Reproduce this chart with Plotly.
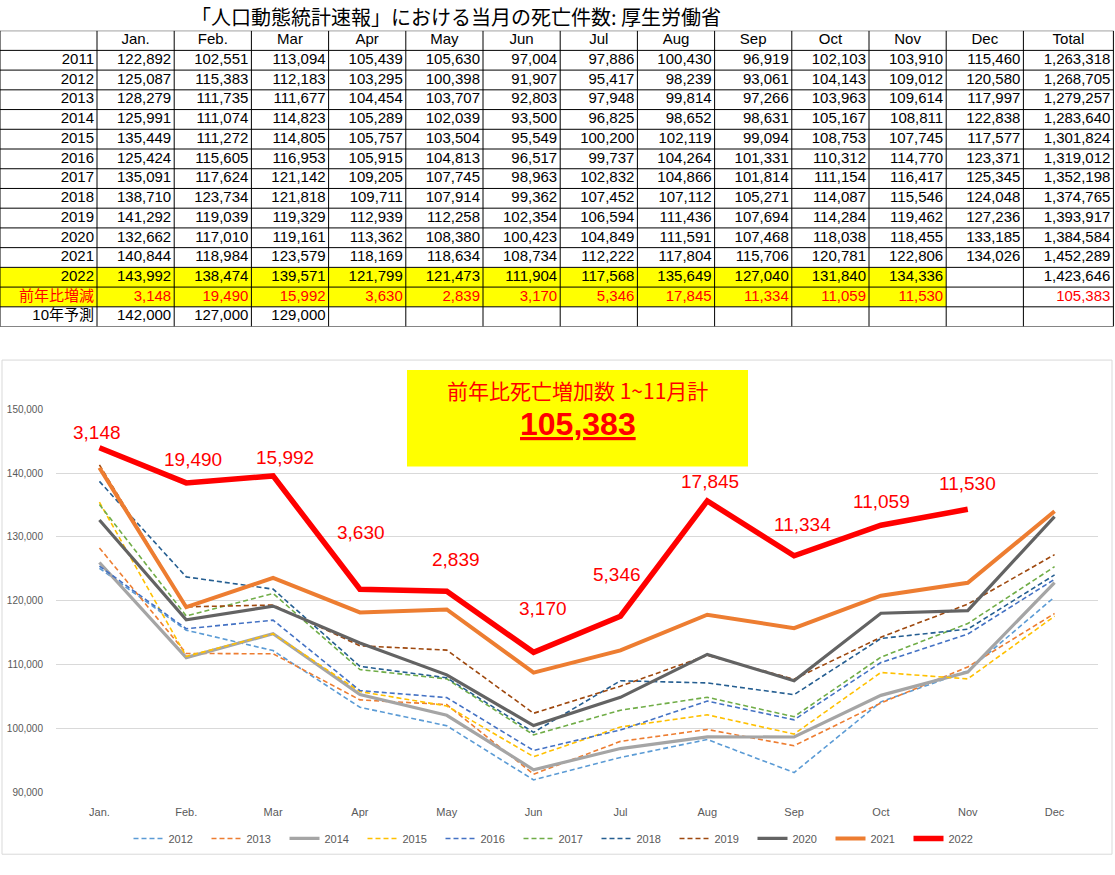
import plotly.graph_objects as go

# ---------------- data ----------------
months = ["Jan.", "Feb.", "Mar", "Apr", "May", "Jun", "Jul", "Aug", "Sep", "Oct", "Nov", "Dec"]
years = [2011, 2012, 2013, 2014, 2015, 2016, 2017, 2018, 2019, 2020, 2021, 2022]

deaths_2011 = [122892, 102551, 113094, 105439, 105630, 97004, 97886, 100430, 96919, 102103, 103910, 115460]
deaths_2012 = [125087, 115383, 112183, 103295, 100398, 91907, 95417, 98239, 93061, 104143, 109012, 120580]
deaths_2013 = [128279, 111735, 111677, 104454, 103707, 92803, 97948, 99814, 97266, 103963, 109614, 117997]
deaths_2014 = [125991, 111074, 114823, 105289, 102039, 93500, 96825, 98652, 98631, 105167, 108811, 122838]
deaths_2015 = [135449, 111272, 114805, 105757, 103504, 95549, 100200, 102119, 99094, 108753, 107745, 117577]
deaths_2016 = [125424, 115605, 116953, 105915, 104813, 96517, 99737, 104264, 101331, 110312, 114770, 123371]
deaths_2017 = [135091, 117624, 121142, 109205, 107745, 98963, 102832, 104866, 101814, 111154, 116417, 125345]
deaths_2018 = [138710, 123734, 121818, 109711, 107914, 99362, 107452, 107112, 105271, 114087, 115546, 124048]
deaths_2019 = [141292, 119039, 119329, 112939, 112258, 102354, 106594, 111436, 107694, 114284, 119462, 127236]
deaths_2020 = [132662, 117010, 119161, 113362, 108380, 100423, 104849, 111591, 107468, 118038, 118455, 133185]
deaths_2021 = [140844, 118984, 123579, 118169, 118634, 108734, 112222, 117804, 115706, 120781, 122806, 134026]
deaths_2022 = [143992, 138474, 139571, 121799, 121473, 111904, 117568, 135649, 127040, 131840, 134336]

year_totals = [1263318, 1268705, 1279257, 1283640, 1301824, 1319012, 1352198, 1374765,
               1393917, 1384584, 1452289, 1423646]
diff_2022 = [3148, 19490, 15992, 3630, 2839, 3170, 5346, 17845, 11334, 11059, 11530]
diff_total = 105383
forecast_10y = [142000, 127000, 129000]

label_diff = "前年比増減"
label_forecast = "10年予測"
title_text = "「人口動態統計速報」における当月の死亡件数: 厚生労働省"
box_title = "前年比死亡増加数 1~11月計"

series = {
    2011: deaths_2011, 2012: deaths_2012, 2013: deaths_2013, 2014: deaths_2014,
    2015: deaths_2015, 2016: deaths_2016, 2017: deaths_2017, 2018: deaths_2018,
    2019: deaths_2019, 2020: deaths_2020, 2021: deaths_2021, 2022: deaths_2022,
}

# ---------------- styles ----------------
W, H = 1115, 875
RED = "#FF0000"
FONT_LAT = "Liberation Sans, Arial, Noto Sans CJK JP"
FONT_CJK = "Noto Sans CJK JP, Liberation Sans"

line_styles = {
    2012: dict(color="#5B9BD5", width=1.6, dash="5px,3px"),
    2013: dict(color="#ED7D31", width=1.6, dash="5px,3px"),
    2014: dict(color="#A5A5A5", width=3.2),
    2015: dict(color="#FFC000", width=1.6, dash="5px,3px"),
    2016: dict(color="#4472C4", width=1.6, dash="5px,3px"),
    2017: dict(color="#70AD47", width=1.6, dash="5px,3px"),
    2018: dict(color="#255E91", width=1.6, dash="5px,3px"),
    2019: dict(color="#9E480E", width=1.6, dash="5px,3px"),
    2020: dict(color="#636363", width=3.2),
    2021: dict(color="#ED7D31", width=4),
    2022: dict(color=RED, width=5.5),
}
label_dx = [-2, 7, 12, 1, 9, 9, -3, 3, 8, 1, 0]
label_dy = [15, 23, 18, 57, 32, 44, 42, 19, 31, 24, 26]

fig = go.Figure()

# ---------------- table (own axes x2/y2, 1 unit = 1 px) ----------------
col_widths = [97] + [77.2] * 12 + [90]
edges = [0.0]
for w in col_widths:
    edges.append(edges[-1] + w)
n_rows = 1 + len(years) + 2
row_2022 = 1 + years.index(2022)
row_diff = row_2022 + 1

# cell fills (yellow where 2022 data exists)
z = []
for r in range(n_rows):
    z.append([1 if (r in (row_2022, row_diff) and c <= len(deaths_2022)) else 0
              for c in range(len(col_widths))])
fig.add_trace(go.Heatmap(
    x=edges, y=list(range(n_rows + 1)), z=z, zmin=0, zmax=1,
    colorscale=[[0, "#FFFFFF"], [1, "#FFFF00"]], showscale=False,
    hoverinfo="skip", xaxis="x2", yaxis="y2"))

# cell texts
def fmt_row(vals, tot):
    return [f"{v:,}" for v in vals] + [""] * (12 - len(vals)) + [f"{tot:,}" if tot is not None else ""]

body = [fmt_row(series[y], t) for y, t in zip(years, year_totals)]
body.append(fmt_row(diff_2022, diff_total))
body.append(fmt_row(forecast_10y, None))
row_names = [str(y) for y in years] + [label_diff, label_forecast]

tx, ty, tt, tc = [], [], [], []
for i, (name, row) in enumerate(zip(row_names, body)):
    r = i + 1
    color = RED if r == row_diff else "#000000"
    tx.append(edges[1] - 3); ty.append(r + 0.5); tt.append(name); tc.append(color)
    for c, s in enumerate(row):
        tx.append(edges[c + 2] - 3); ty.append(r + 0.5); tt.append(s); tc.append(color)
fig.add_trace(go.Scatter(
    x=tx, y=ty, text=tt, mode="text", textposition="middle left",
    textfont=dict(family=FONT_LAT, size=15, color=tc),
    hoverinfo="skip", showlegend=False, xaxis="x2", yaxis="y2"))

header = months + ["Total"]
fig.add_trace(go.Scatter(
    x=[(edges[c + 1] + edges[c + 2]) / 2 for c in range(len(header))],
    y=[0.5] * len(header), text=header, mode="text", textposition="middle center",
    textfont=dict(family=FONT_LAT, size=15, color="#000000"),
    hoverinfo="skip", showlegend=False, xaxis="x2", yaxis="y2"))

shapes = []
for e in edges:
    shapes.append(dict(type="line", xref="x2", yref="y2", x0=e, x1=e, y0=0, y1=n_rows,
                       line=dict(color="black", width=1), layer="above"))
for r in range(n_rows + 1):
    shapes.append(dict(type="line", xref="x2", yref="y2", x0=0, x1=edges[-1], y0=r, y1=r,
                       line=dict(color="black", width=1), layer="above"))

# ---------------- line chart ----------------
for y in years[1:]:
    vals = series[y]
    fig.add_trace(go.Scatter(
        x=months[:len(vals)], y=vals, mode="lines", name=str(y),
        line=line_styles[y], hovertemplate="%{x}: %{y:,}<extra>" + str(y) + "</extra>"))

annotations = []
for m, v, d, dx, dy in zip(months, deaths_2022, diff_2022, label_dx, label_dy):
    annotations.append(dict(x=m, y=v, xref="x", yref="y", text=f"{d:,}", showarrow=False,
                            xshift=dx, yshift=dy, xanchor="center", yanchor="middle",
                            font=dict(family=FONT_LAT, size=19, color=RED)))

# chart frame and yellow box
shapes.append(dict(type="rect", xref="paper", yref="paper",
                   x0=2 / W, x1=1112 / W, y0=1 - 860 / H, y1=1 - 359 / H,
                   line=dict(color="#D9D9D9", width=1), fillcolor="rgba(0,0,0,0)", layer="below"))
shapes.append(dict(type="rect", xref="paper", yref="paper",
                   x0=407 / W, x1=748 / W, y0=1 - 467 / H, y1=1 - 369 / H,
                   line=dict(width=0), fillcolor="#FFFF00", layer="above"))

annotations.append(dict(x=577.5 / W, y=1 - 389 / H, xref="paper", yref="paper", text=box_title,
                        xanchor="center", yanchor="middle",
                        showarrow=False, font=dict(family=FONT_CJK, size=21, color=RED)))
annotations.append(dict(x=577.5 / W, y=1 - 424 / H, xref="paper", yref="paper",
                        text=f"<b><u>{diff_total:,}</u></b>", xanchor="center", yanchor="middle",
                        showarrow=False, font=dict(family=FONT_LAT, size=32, color=RED)))
annotations.append(dict(x=456 / W, y=1 - 11 / H, xref="paper", yref="paper", text=title_text,
                        xanchor="center", yanchor="middle",
                        showarrow=False, font=dict(family=FONT_CJK, size=20, color="#000000")))

fig.update_layout(
    width=W, height=H, margin=dict(l=0, r=0, t=0, b=0),
    paper_bgcolor="white", plot_bgcolor="white",
    shapes=shapes, annotations=annotations,
    xaxis=dict(domain=[56 / W, 1098 / W], anchor="y", type="category",
               categoryorder="array", categoryarray=months, range=[-0.5, 11.5],
               showgrid=False, zeroline=False, showline=False, ticks="",
               ticklabelstandoff=12,
               tickfont=dict(family=FONT_LAT, size=11, color="#595959")),
    yaxis=dict(domain=[1 - 797 / H, 1 - 409 / H], anchor="x", range=[90000, 150000],
               dtick=10000, tickformat=",", gridcolor="#D9D9D9", gridwidth=1,
               zeroline=False, showline=False, ticks="", ticklabelstandoff=12,
               tickfont=dict(family=FONT_LAT, size=10, color="#595959")),
    xaxis2=dict(domain=[0, 1], anchor="y2", range=[0, W], visible=False, fixedrange=True),
    yaxis2=dict(domain=[1 - 325 / H, 1 - 25 / H], anchor="x2", range=[n_rows, 0],
                visible=False, fixedrange=True),
    legend=dict(orientation="h", x=0.5, xanchor="center", y=1 - 844 / H, yanchor="middle",
                entrywidth=33, entrywidthmode="pixels",
                font=dict(family=FONT_LAT, size=11, color="#595959"),
                bgcolor="rgba(0,0,0,0)", traceorder="normal"),
    showlegend=True,
)

fig.write_html("out.html", config={"displayModeBar": False},
               post_script="document.body.style.margin='0';document.body.style.overflow='hidden';")
